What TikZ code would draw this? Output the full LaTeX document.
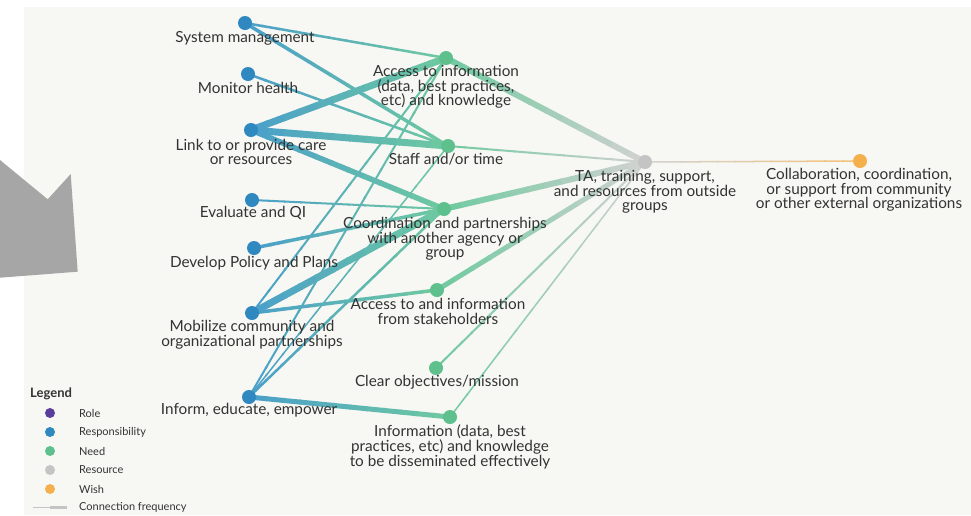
\documentclass[tikz,border=0pt]{standalone}
\usepackage{fontspec}
\setmainfont{Lato}
\usetikzlibrary{calc}

\definecolor{bg}{HTML}{F7F7F3}
\definecolor{pointer}{HTML}{A6A6A6}
\definecolor{ink}{HTML}{333333}
\definecolor{role}{HTML}{5B3D9C}
\definecolor{resp}{HTML}{2F88BF}
\definecolor{need}{HTML}{5EC08D}
\definecolor{res}{HTML}{C4C4C4}
\definecolor{wish}{HTML}{F3B04D}
\definecolor{respline}{HTML}{4A9FC9}
\definecolor{needline}{HTML}{6FCAA0}
\definecolor{resline}{HTML}{D2D2D2}
\definecolor{wishline}{HTML}{F5C27A}

\pgfdeclarelayer{paper}
\pgfdeclarelayer{edges}
\pgfsetlayers{paper,edges,main}

% straight connector whose colour blends from one end to the other
\newcommand\gradedge[5]{%
  \foreach \k in {0,...,11}{%
    \pgfmathsetmacro\edgeta{\k/12}%
    \pgfmathsetmacro\edgetb{(\k+1.1)/12}%
    \pgfmathtruncatemacro\edgepc{100*(\k+0.5)/12}%
    \draw[line width=#3pt, color=#5!\edgepc!#4]
      ($(#1)!\edgeta!(#2)$) -- ($(#1)!\edgetb!(#2)$);
  }}

\tikzset{
  dot/.style={circle, inner sep=0pt, minimum size=14pt, fill=#1},
  lab/.style={font=\fontsize{15.3}{14.7}\selectfont, align=center, text=ink,
              inner sep=1pt},
  legdot/.style={circle, inner sep=0pt, minimum size=10pt, fill=#1},
  legtext/.style={font=\fontsize{11}{12}\selectfont, text=ink, anchor=west, inner sep=0pt},
}

\begin{document}
\begin{tikzpicture}[x=1pt, y=-1pt]
\useasboundingbox (0,0) rectangle (971,515);

\begin{pgfonlayer}{paper}
  \fill[white] (0,0) rectangle (971,515);
  \fill[bg] (24,7) rectangle (971,515);
\end{pgfonlayer}

% pointer shape at the left edge
\fill[pointer] (0,160) -- (47.7,199.3) -- (70.7,174) -- (77.7,271.7) -- (0,277.7) -- cycle;

% responsibilities
\node[dot=resp] (sm) at (245,23) {};
\node[dot=resp] (mh) at (248,74) {};
\node[dot=resp] (lk) at (251,130) {};
\node[dot=resp] (ev) at (252,200) {};
\node[dot=resp] (dp) at (254,248) {};
\node[dot=resp] (mo) at (252,313) {};
\node[dot=resp] (ie) at (249,397) {};
% needs
\node[dot=need] (ai) at (446,58) {};
\node[dot=need] (st) at (448,146) {};
\node[dot=need] (co) at (444,209) {};
\node[dot=need] (sh) at (437,290) {};
\node[dot=need] (cl) at (436,368) {};
\node[dot=need] (id) at (450,417) {};
% resource and wish
\node[dot=res] (ta) at (645,162) {};
\node[dot=wish] (wi) at (860,161) {};

\begin{pgfonlayer}{edges}
  \gradedge{sm}{ai}{2.5}{respline}{needline}
  \gradedge{sm}{st}{3.5}{respline}{needline}
  \gradedge{mh}{st}{2.5}{respline}{needline}
  \gradedge{lk}{ai}{7}{respline}{needline}
  \gradedge{lk}{st}{7}{respline}{needline}
  \gradedge{lk}{co}{5.5}{respline}{needline}
  \gradedge{ev}{co}{2}{respline}{needline}
  \gradedge{dp}{co}{3.5}{respline}{needline}
  \gradedge{mo}{co}{7}{respline}{needline}
  \gradedge{mo}{sh}{3.5}{respline}{needline}
  \gradedge{mo}{ai}{2}{respline}{needline}
  \gradedge{ie}{ai}{2}{respline}{needline}
  \gradedge{ie}{st}{1.5}{respline}{needline}
  \gradedge{ie}{co}{2.5}{respline}{needline}
  \gradedge{ie}{id}{5}{respline}{needline}
  \gradedge{ai}{ta}{6}{needline}{resline}
  \gradedge{st}{ta}{2}{needline}{resline}
  \gradedge{co}{ta}{6}{needline}{resline}
  \gradedge{sh}{ta}{5}{needline}{resline}
  \gradedge{cl}{ta}{2}{needline}{resline}
  \gradedge{id}{ta}{1.5}{needline}{resline}
  \gradedge{ta}{wi}{1.5}{resline}{wishline}
\end{pgfonlayer}

% labels
\node[lab] (smL) at (245,38) {System management};
\node[lab] (mhL) at (248,88) {Monitor health};
\node[lab] (lkL) at (251,152) {Link to or provide care\\or resources};
\node[lab] (evL) at (253,213) {Evaluate and QI};
\node[lab] (dpL) at (254,263) {Develop Policy and Plans};
\node[lab] (moL) at (252,334.5) {Mobilize community and\\organizational partnerships};
\node[lab] (ieL) at (249,410) {Inform, educate, empower};
\node[lab] (aiL) at (446,87) {Access to information\\(data, best practices,\\etc) and knowledge};
\node[lab] (stL) at (446,159) {Staff and/or time};
\node[lab] (coL) at (445,239) {Coordination and partnerships\\with another agency or\\group};
\node[lab] (shL) at (438,311.5) {Access to and information\\from stakeholders};
\node[lab] (clL) at (437,382) {Clear objectives/mission};
\node[lab] (idL) at (450,447) {Information (data, best\\practices, etc) and knowledge\\to be disseminated effectively};
\node[lab] (taL) at (645,192) {TA, training, support,\\and resources from outside\\groups};
\node[lab] (wiL) at (859,190) {Collaboration, coordination,\\or support from community\\or other external organizations};

% legend
\node[font=\bfseries\fontsize{13}{14}\selectfont, text=ink, anchor=west, inner sep=0pt] (legT) at (30,394) {Legend};
\node[legdot=role] (l1) at (50,413) {};
\node[legdot=resp] (l2) at (50,432) {};
\node[legdot=need] (l3) at (50,451) {};
\node[legdot=res] (l4) at (50,470) {};
\node[legdot=wish] (l5) at (50,489) {};
\node[legtext] (t1) at (79,413) {Role};
\node[legtext] (t2) at (79,432) {Responsibility};
\node[legtext] (t3) at (79,451) {Need};
\node[legtext] (t4) at (79,470) {Resource};
\node[legtext] (t5) at (79,489) {Wish};
\node[legtext] (t6) at (79,507) {Connection frequency};
\coordinate (f0) at (33,507);
\coordinate (f1) at (50,507);
\coordinate (f2) at (67,507);
\draw[res, line width=1pt] (f0) -- (f1);
\draw[res, line width=3pt] (f1) -- (f2);
\end{tikzpicture}
\end{document}
